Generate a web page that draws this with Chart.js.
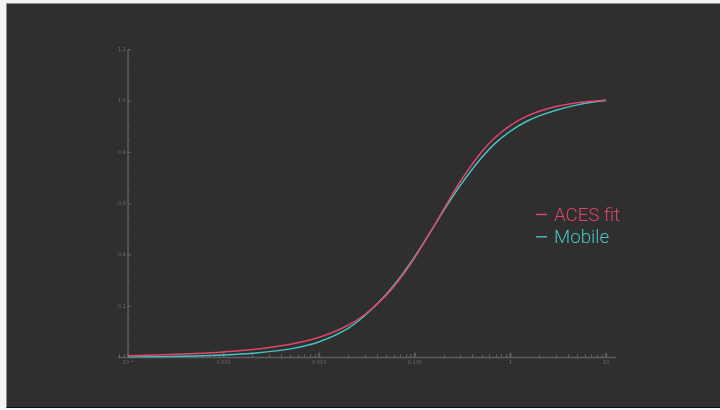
<!DOCTYPE html>
<html>
<head>
<meta charset="utf-8">
<title>ACES fit vs Mobile</title>
<script src="https://cdn.jsdelivr.net/npm/chart.js@4/dist/chart.umd.min.js"></script>
<style>
  html, body { margin: 0; padding: 0; background: #f4f4f4; }
  #frame {
    position: absolute; left: 6px; top: 3px; width: 714px; height: 405px;
    background: #2f2f2f;
    border-top: 1px solid #8c8c8c; border-left: 1px solid #8c8c8c;
    border-bottom: 1px solid #111;
    box-sizing: border-box;
  }
  #wrap { position: absolute; left: 0; top: 0; width: 720px; height: 410px; }
</style>
</head>
<body>
<div id="frame"></div>
<div id="wrap"><canvas id="chart" width="720" height="410"></canvas></div>
<script>
// Scene exposure (log axis) and tonemapped output of the two curves
const exposure = [1e-4, 2e-4, 5e-4, 1e-3, 2e-3, 5e-3, 0.01, 0.02, 0.03, 0.05, 0.07, 0.1,
                  0.15, 0.2, 0.3, 0.5, 0.7, 1, 1.5, 2, 3, 5, 7, 10];
const acesFit  = [0.0076, 0.0104, 0.0160, 0.0223, 0.0315, 0.0519, 0.0791, 0.1261, 0.1680, 0.2425, 0.3072, 0.3898,
                  0.4976, 0.5781, 0.6874, 0.8025, 0.8599, 0.9055, 0.9420, 0.9604, 0.9787, 0.9933, 0.9995, 1.0035];
const mobile   = [0.0015, 0.0030, 0.0060, 0.0100, 0.0168, 0.0340, 0.0620, 0.1140, 0.1640, 0.2460, 0.3120, 0.3940,
                  0.4980, 0.5730, 0.6720, 0.7800, 0.8370, 0.8830, 0.9220, 0.9420, 0.9640, 0.9850, 0.9950, 1.0020];

const seriesNames = ['ACES fit', 'Mobile'];
const seriesColors = ['#e0456b', '#45c3c3'];

const xTickValues = [1e-4, 1e-3, 1e-2, 1e-1, 1, 10];
const xTickLabels = ['10\u207B\u2074', '0.001', '0.010', '0.100', '1', '10'];
const yTickValues = [0.2, 0.4, 0.6, 0.8, 1.0, 1.2];
const yTickLabels = ['0.2', '0.4', '0.6', '0.8', '1.0', '1.2'];

const X_MIN = 7.86e-5, X_MAX = 12.6, Y_MIN = 0, Y_MAX = 1.2;
const AXIS_COLOR = '#5e5e5e';
const LABEL_COLOR = '#6e6e6e';

// Hand-drawn axes: y axis crosses at x = 1e-4, ticks point into the plot
const axesPlugin = {
  id: 'axes',
  beforeDatasetsDraw(chart) {
    const ctx = chart.ctx;
    const xs = chart.scales.x, ys = chart.scales.y;
    const y0 = ys.getPixelForValue(0);
    const xAxis = xs.getPixelForValue(1e-4);
    ctx.save();
    ctx.strokeStyle = AXIS_COLOR;
    ctx.fillStyle = AXIS_COLOR;

    // x axis line
    ctx.lineWidth = 1.5;
    ctx.beginPath();
    ctx.moveTo(xs.getPixelForValue(X_MIN), y0);
    ctx.lineTo(xs.getPixelForValue(X_MAX), y0);
    ctx.stroke();

    // x minor ticks (2..9 per decade)
    ctx.lineWidth = 1;
    for (let e = -5; e <= 1; e++) {
      for (let k = 2; k <= 9; k++) {
        const v = k * Math.pow(10, e);
        if (v < X_MIN || v > X_MAX) continue;
        const px = Math.round(xs.getPixelForValue(v)) + 0.5;
        ctx.beginPath();
        ctx.moveTo(px, y0);
        ctx.lineTo(px, y0 - 3.5);
        ctx.stroke();
      }
    }
    // x major ticks
    ctx.lineWidth = 2;
    xTickValues.forEach(v => {
      const px = xs.getPixelForValue(v);
      ctx.beginPath();
      ctx.moveTo(px, y0);
      ctx.lineTo(px, y0 - 5);
      ctx.stroke();
    });

    // y axis line
    ctx.lineWidth = 1.5;
    ctx.beginPath();
    ctx.moveTo(xAxis, ys.getPixelForValue(Y_MIN));
    ctx.lineTo(xAxis, ys.getPixelForValue(Y_MAX));
    ctx.stroke();

    // y minor ticks every 0.05
    ctx.lineWidth = 1;
    for (let i = 1; i < 24; i++) {
      if (i % 4 === 0) continue;
      const py = ys.getPixelForValue(i * 0.05);
      ctx.beginPath();
      ctx.moveTo(xAxis, py);
      ctx.lineTo(xAxis + 1.5, py);
      ctx.stroke();
    }
    // y major ticks
    ctx.lineWidth = 1.2;
    yTickValues.forEach(v => {
      const py = ys.getPixelForValue(v);
      ctx.beginPath();
      ctx.moveTo(xAxis, py);
      ctx.lineTo(xAxis + 3, py);
      ctx.stroke();
    });

    // tick labels
    ctx.fillStyle = LABEL_COLOR;
    ctx.font = '5px "DejaVu Sans", sans-serif';
    ctx.textBaseline = 'middle';
    ctx.textAlign = 'center';
    xTickValues.forEach((v, i) => {
      ctx.fillText(xTickLabels[i], xs.getPixelForValue(v), y0 + 5);
    });
    ctx.textAlign = 'right';
    yTickValues.forEach((v, i) => {
      ctx.fillText(yTickLabels[i], xAxis - 2, ys.getPixelForValue(v));
    });
    ctx.restore();
  }
};

// Legend drawn inside the plot area, to the right of the curves
const legendPlugin = {
  id: 'sideLegend',
  afterDatasetsDraw(chart) {
    const ctx = chart.ctx;
    ctx.save();
    ctx.font = '300 18.7px Roboto, sans-serif';
    ctx.textBaseline = 'alphabetic';
    ctx.textAlign = 'left';
    const baseX = 536, firstBase = 221, step = 22.3;
    seriesNames.forEach((name, i) => {
      const base = firstBase + i * step;
      ctx.strokeStyle = seriesColors[i];
      ctx.lineWidth = 1.4;
      ctx.beginPath();
      ctx.moveTo(baseX, base - 6.5);
      ctx.lineTo(baseX + 11, base - 6.5);
      ctx.stroke();
      ctx.fillStyle = seriesColors[i];
      ctx.fillText(name, baseX + 18, base);
    });
    ctx.restore();
  }
};

const toPoints = ys => exposure.map((x, i) => ({ x, y: ys[i] }));

new Chart(document.getElementById('chart'), {
  type: 'line',
  data: {
    datasets: [
      { label: seriesNames[0], data: toPoints(acesFit), borderColor: seriesColors[0],
        borderWidth: 1.5, pointRadius: 0, cubicInterpolationMode: 'monotone', fill: false },
      { label: seriesNames[1], data: toPoints(mobile), borderColor: seriesColors[1],
        borderWidth: 1.5, pointRadius: 0, cubicInterpolationMode: 'monotone', fill: false }
    ]
  },
  options: {
    responsive: false,
    animation: false,
    layout: { padding: { left: 118, right: 104.3, top: 49.7, bottom: 52.4 } },
    scales: {
      x: { type: 'logarithmic', min: X_MIN, max: X_MAX, display: false },
      y: { type: 'linear', min: Y_MIN, max: Y_MAX, display: false }
    },
    plugins: { legend: { display: false }, tooltip: { enabled: false } }
  },
  plugins: [axesPlugin, legendPlugin]
});
</script>
</body>
</html>
